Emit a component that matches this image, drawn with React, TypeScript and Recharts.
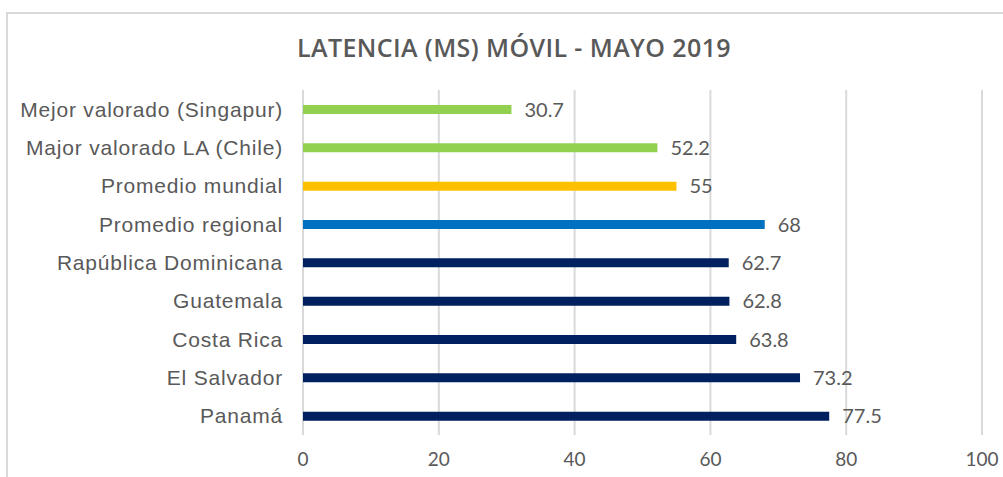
import React from 'react';
import { BarChart, Bar, XAxis, YAxis, CartesianGrid, Cell, LabelList } from 'recharts';

const categories = [
  'Mejor valorado (Singapur)',
  'Major valorado LA (Chile)',
  'Promedio mundial',
  'Promedio regional',
  'Rapública Dominicana',
  'Guatemala',
  'Costa Rica',
  'El Salvador',
  'Panamá',
];
const latencyValues = [30.7, 52.2, 55, 68, 62.7, 62.8, 63.8, 73.2, 77.5];
const barColors = ['#92D050', '#92D050', '#FFC000', '#0070C0', '#002060', '#002060', '#002060', '#002060', '#002060'];
const xTicks = [0, 20, 40, 60, 80, 100];
const title = 'LATENCIA (MS) MÓVIL - MAYO 2019';

const data = categories.map((name, i) => ({ name, value: latencyValues[i], color: barColors[i] }));

export default function App() {
  return (
    <div style={{ position: 'absolute', left: 0, top: 0, width: 1003, height: 477, overflow: 'hidden', background: '#fff' }}>
      <div style={{ position: 'absolute', left: 6, top: 12, width: 1200, height: 700, borderTop: '2px solid #D9D9D9', borderLeft: '2px solid #D9D9D9' }} />
      <div style={{ position: 'absolute', left: 0, top: 28, width: 1028, textAlign: 'center', fontFamily: 'Open Sans', fontWeight: 600, fontSize: 25, letterSpacing: 0.4, color: '#595959', lineHeight: '38px' }}>
        {title}
      </div>
      <div style={{ position: 'absolute', left: 0, top: 0 }}>
        <BarChart
          width={1003}
          height={477}
          layout="vertical"
          data={data}
          margin={{ top: 90, right: 21, bottom: 12, left: 0 }}
          barCategoryGap={0}
        >
          <CartesianGrid horizontal={false} vertical={true} stroke="#D9D9D9" strokeWidth={2} />
          <XAxis
            type="number"
            domain={[0, 100]}
            ticks={xTicks}
            axisLine={false}
            tickLine={false}
            height={30}
            tickSize={0}
            tickMargin={18}
            tick={{ fill: '#595959', fontSize: 19, fontFamily: 'Lato' }}
          />
          <YAxis
            type="category"
            dataKey="name"
            width={303}
            axisLine={false}
            tickLine={false}
            tickSize={0}
            tickMargin={20}
            interval={0}
            tick={{ fill: '#595959', fontSize: 21, fontFamily: 'Liberation Sans', letterSpacing: 0.8 }}
          />
          <Bar dataKey="value" barSize={9} isAnimationActive={false}>
            {data.map((d, i) => (
              <Cell key={i} fill={d.color} />
            ))}
            <LabelList dataKey="value" position="right" offset={13} fill="#595959" fontSize={20} fontFamily="Lato" />
          </Bar>
        </BarChart>
      </div>
    </div>
  );
}
